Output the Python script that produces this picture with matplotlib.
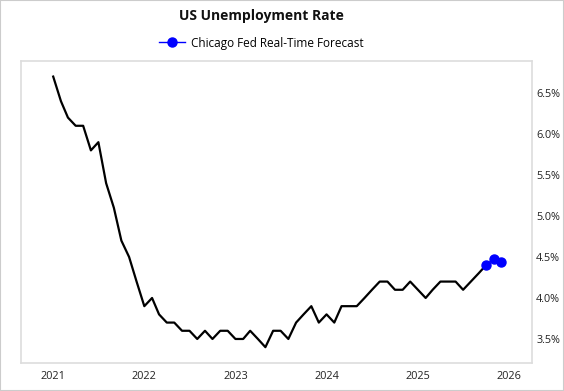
import numpy as np
import pandas as pd
import matplotlib
matplotlib.use("Agg")
import matplotlib.pyplot as plt
import matplotlib.dates as mdates
from matplotlib.lines import Line2D
from matplotlib.patches import Rectangle

plt.rcParams['font.family'] = ['Open Sans', 'DejaVu Sans']

# monthly unemployment rate (%)
rate = [6.7, 6.4, 6.2, 6.1, 6.1, 5.8, 5.9, 5.4, 5.1, 4.7, 4.5, 4.2,
        3.9, 4.0, 3.8, 3.7, 3.7, 3.6, 3.6, 3.5, 3.6, 3.5, 3.6, 3.6,
        3.5, 3.5, 3.6, 3.5, 3.4, 3.6, 3.6, 3.5, 3.7, 3.8, 3.9, 3.7,
        3.8, 3.7, 3.9, 3.9, 3.9, 4.0, 4.1, 4.2, 4.2, 4.1, 4.1, 4.2,
        4.1, 4.0, 4.1, 4.2, 4.2, 4.2, 4.1, 4.2, 4.3, 4.4]
dates = pd.date_range("2021-01-01", periods=len(rate), freq="MS")

forecast = [4.40, 4.48, 4.44]
forecast_dates = pd.date_range(dates[-1], periods=len(forecast), freq="MS")

yticks = [3.5, 4.0, 4.5, 5.0, 5.5, 6.0, 6.5]

fig = plt.figure(figsize=(5.64, 3.91), dpi=100)
ax = fig.add_axes([21/564, 28/391, 511/564, 302/391])

ax.plot(dates, rate, color="black", lw=1.6, zorder=2)
ax.plot(forecast_dates, forecast, color="#0000ff", lw=1, marker="o", ms=6.5, zorder=3)

ax.set_xlim(pd.Timestamp("2020-08-25"), pd.Timestamp("2026-04-03"))
ax.set_ylim(3.207, 6.89)
ax.xaxis.set_major_locator(mdates.YearLocator())
ax.xaxis.set_major_formatter(mdates.DateFormatter("%Y"))
ax.yaxis.tick_right()
ax.set_yticks(yticks)
ax.set_yticklabels([f"{v:.1f}%" for v in yticks])
ax.tick_params(length=0, labelsize=7.8, colors="#222222")
ax.tick_params(axis="y", pad=3)
ax.tick_params(axis="x", pad=6)
for s in ax.spines.values():
    s.set_color("#dddddd")
    s.set_linewidth(1.2)

fig.text(261/564, 1 - 16/391, "US Unemployment Rate", ha="center", va="center",
         fontsize=10, fontweight="bold", color="#111111")
handle = Line2D([], [], color="#0000ff", lw=1, marker="o", ms=6.5)
fig.legend([handle], ["Chicago Fed Real-Time Forecast"], loc="center",
           bbox_to_anchor=(261/564, 1 - 43/391), frameon=False, fontsize=8.5,
           handlelength=2.2, handletextpad=0.5)

fig.patches.append(Rectangle((0, 0), 1, 1, transform=fig.transFigure,
                             fill=False, edgecolor="#cccccc", lw=1.5))

fig.savefig("out.png", dpi=100)
